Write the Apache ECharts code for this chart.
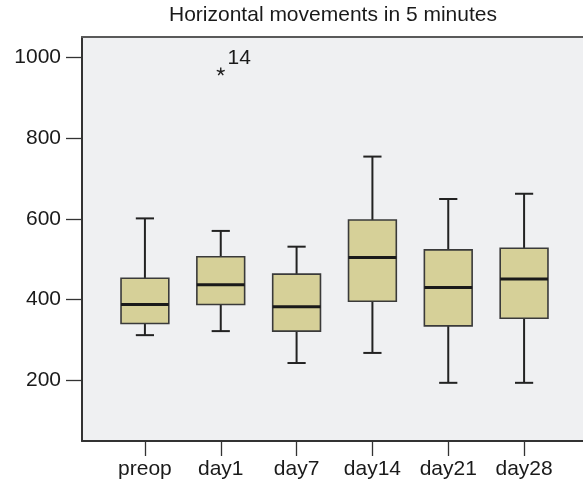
<!DOCTYPE html>
<html>
<head>
<meta charset="utf-8">
<script src="https://cdn.jsdelivr.net/npm/echarts@6/dist/echarts.min.js"></script>
<style>html,body{margin:0;padding:0;background:#fff;}#c{width:583px;height:481px;}</style>
</head>
<body>
<div id="c"></div>
<script>
const titleText = 'Horizontal movements in 5 minutes';
const categories = ['preop', 'day1', 'day7', 'day14', 'day21', 'day28'];
const lows    = [312, 322, 243, 268, 194, 194];
const q1s     = [341, 388, 322, 396, 335, 354];
const medians = [388, 437, 382, 504, 430, 451];
const q3s     = [453, 506, 463, 597, 523, 527];
const highs   = [601, 570, 531, 754, 649, 662];
const outlierCats   = ['day1'];
const outlierValues = [965];
const outlierLabels = ['14'];
const yTicks = [200, 400, 600, 800, 1000];

const FONT = "'Liberation Sans', Arial, Helvetica, sans-serif";
const boxData = categories.map((c, i) => [i, lows[i], q1s[i], medians[i], q3s[i], highs[i]]);
const outData = outlierCats.map((c, i) => ({value: [categories.indexOf(c), outlierValues[i]], name: outlierLabels[i]}));

function renderItem(params, api) {
  const x = api.value(0);
  const pLow = api.coord([x, api.value(1)]);
  const pQ1 = api.coord([x, api.value(2)]);
  const pMed = api.coord([x, api.value(3)]);
  const pQ3 = api.coord([x, api.value(4)]);
  const pHigh = api.coord([x, api.value(5)]);
  const band = api.size([1, 0])[0];
  const bw = band * 0.63;
  const cw = band * 0.24;
  const cx = pMed[0];
  const ws = {stroke: '#222', lineWidth: 2};
  return {
    type: 'group',
    children: [
      {type: 'line', shape: {x1: cx, y1: pLow[1], x2: cx, y2: pQ1[1]}, style: ws},
      {type: 'line', shape: {x1: cx, y1: pQ3[1], x2: cx, y2: pHigh[1]}, style: ws},
      {type: 'line', shape: {x1: cx - cw / 2, y1: pLow[1], x2: cx + cw / 2, y2: pLow[1]}, style: ws},
      {type: 'line', shape: {x1: cx - cw / 2, y1: pHigh[1], x2: cx + cw / 2, y2: pHigh[1]}, style: ws},
      {type: 'rect', shape: {x: cx - bw / 2, y: pQ3[1], width: bw, height: pQ1[1] - pQ3[1]},
       style: {fill: '#D6D098', stroke: '#3a3a3a', lineWidth: 1.6}},
      {type: 'line', shape: {x1: cx - bw / 2, y1: pMed[1], x2: cx + bw / 2, y2: pMed[1]},
       style: {stroke: '#1a1a1a', lineWidth: 3}}
    ]
  };
}

const chart = echarts.init(document.getElementById('c'), null, {renderer: 'canvas'});
chart.setOption({
  animation: false,
  backgroundColor: '#ffffff',
  textStyle: {fontFamily: FONT},
  title: {
    text: titleText, left: 169, top: 5, padding: 0,
    textStyle: {fontFamily: FONT, fontSize: 21, fontWeight: 'normal', color: '#1a1a1a'}
  },
  grid: [
    {left: 82, right: 0, top: 37, bottom: 40, show: true, backgroundColor: '#EFF0F2', borderWidth: 0},
    {left: 107, right: 21, top: 37, bottom: 40}
  ],
  xAxis: [
    {gridIndex: 0, type: 'value', min: 0, max: 1, axisLine: {show: true, lineStyle: {color: '#333', width: 2}},
     axisTick: {show: false}, axisLabel: {show: false}, splitLine: {show: false}},
    {gridIndex: 1, type: 'category', data: categories, boundaryGap: true,
     axisLine: {show: false},
     axisTick: {show: true, alignWithLabel: true, length: 15, lineStyle: {color: '#333', width: 1.3}},
     axisLabel: {fontFamily: FONT, fontSize: 21, color: '#1a1a1a', margin: 18},
     splitLine: {show: false}},
    {gridIndex: 0, type: 'value', position: 'top', min: 0, max: 1,
     axisLine: {show: true, lineStyle: {color: '#5a5a5a', width: 2}},
     axisTick: {show: false}, axisLabel: {show: false}, splitLine: {show: false}}
  ],
  yAxis: [
    {gridIndex: 0, type: 'value', min: 50, max: 1050,
     axisLine: {show: true, lineStyle: {color: '#333', width: 2}},
     axisTick: {show: true, customValues: yTicks, length: 16, lineStyle: {color: '#333', width: 1.3}},
     axisLabel: {customValues: yTicks, formatter: (v) => String(v), fontFamily: FONT, fontSize: 21, color: '#1a1a1a', margin: 21},
     splitLine: {show: false}},
    {gridIndex: 1, type: 'value', min: 50, max: 1050, show: false, splitLine: {show: false}}
  ],
  series: [
    {type: 'custom', xAxisIndex: 1, yAxisIndex: 1, renderItem: renderItem, data: boxData,
     encode: {x: 0, y: [1, 2, 3, 4, 5]}},
    {type: 'scatter', xAxisIndex: 1, yAxisIndex: 1, data: outData,
     symbol: 'path://M0,0L0,-5M0,0L4.76,-1.55M0,0L2.94,4.05M0,0L-2.94,4.05M0,0L-4.76,-1.55',
     symbolKeepAspect: true, symbolSize: 8,
     itemStyle: {color: 'rgba(0,0,0,0)', borderColor: '#222', borderWidth: 1.4, opacity: 1},
     label: {show: true, position: 'right', distance: 2, offset: [0, -13], formatter: '{b}',
             fontFamily: FONT, fontSize: 21, color: '#1a1a1a'}}
  ]
});
</script>
</body>
</html>
